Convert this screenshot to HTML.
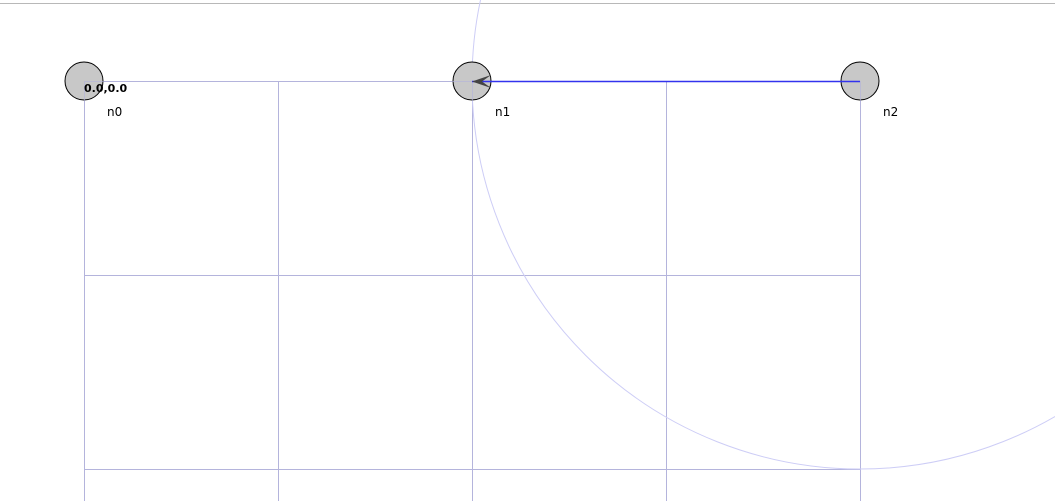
<!DOCTYPE html>
<html><head><meta charset="utf-8"><style>
html,body{margin:0;padding:0;background:#fff;}
svg{display:block;font-family:"DejaVu Sans","Liberation Sans",sans-serif;}
</style></head><body>
<svg id="chart" width="1055" height="501">
<line x1="0" y1="3.5" x2="1055" y2="3.5" stroke="#b8b8b8" stroke-width="1"/>
<g id="grid"></g>
<g id="range"></g>
<g id="nodes"></g>
<g id="links"></g>
<text x="84" y="92" font-size="11" font-weight="bold" fill="#000">0.0,0.0</text>
</svg>
<script>
const nodeNames = ["n0","n1","n2"];
const nodeX = [0, 2, 4];
const nodeY = [0, 0, 0];
const gridXTicks = [0,1,2,3,4];
const gridYTicks = [0,1,2];
const linkFrom = [2];
const linkTo = [1];
const rangeNodes = [2];
const rangeRadius = 2;
const ox=84, oy=81, unit=194;
const sx = v => ox + v*unit;
const sy = v => oy + v*unit;
const NS="http://www.w3.org/2000/svg";
function mk(tag, attrs, parent){const e=document.createElementNS(NS,tag);for(const k in attrs)e.setAttribute(k,attrs[k]);parent.appendChild(e);return e;}
const grid=document.getElementById('grid');
const nodesG=document.getElementById('nodes');
gridXTicks.forEach(t=>{
  const l=mk('line',{x1:sx(t)+0.5,y1:sy(0),x2:sx(t)+0.5,y2:501,stroke:'#b4b4dc','stroke-width':1},grid);
  
  
});
gridYTicks.forEach(t=>{
  const l=mk('line',{x1:sx(0),y1:sy(t)+0.5,x2:sx(gridXTicks[gridXTicks.length-1]),y2:sy(t)+0.5,stroke:'#b4b4dc','stroke-width':1},grid);
  
  
});
rangeNodes.forEach(i=>{
  const c=mk('circle',{cx:sx(nodeX[i]),cy:sy(nodeY[i]),r:rangeRadius*unit,fill:'none',stroke:'#cdcdf6','stroke-width':1},document.getElementById('range'));
  
  
});
nodeNames.forEach((n,i)=>{
  const c=mk('circle',{cx:sx(nodeX[i]),cy:sy(nodeY[i]),r:19,fill:'#c8c8c8',stroke:'#000','stroke-width':1},nodesG);
  
  
  const t=mk('text',{x:sx(nodeX[i])+23,y:sy(nodeY[i])+35,'font-size':12,fill:'#000'},nodesG);
  t.textContent=n;
  
  
});
const overlay=document.createElementNS(NS,'g');
overlay.setAttribute('opacity','0.6');
gridXTicks.forEach(t=>{mk('line',{x1:sx(t)+0.5,y1:sy(0),x2:sx(t)+0.5,y2:sy(0)+20,stroke:'#b4b4dc'},overlay);});
mk('line',{x1:sx(0),y1:sy(0)+0.5,x2:sx(4),y2:sy(0)+0.5,stroke:'#b4b4dc'},overlay);
nodesG.appendChild(overlay);
const links=document.getElementById('links');
linkFrom.forEach((f,k)=>{
  const x1=sx(nodeX[f]),y1=sy(nodeY[f]),x2=sx(nodeX[linkTo[k]]),y2=sy(nodeY[linkTo[k]]);
  const l=mk('line',{x1:x1,y1:y1+0.5,x2:x2,y2:y2+0.5,stroke:'#3333ee','stroke-width':1.5},links);
  
  
  const dir=Math.sign(x1-x2)||1;
  const p=mk('polygon',{points:`${x2},${y2+0.5} ${x2+dir*19},${y2-6} ${x2+dir*10},${y2+0.5} ${x2+dir*19},${y2+7}`,fill:'#444'},links);
  
  
});
</script>
</body></html>
